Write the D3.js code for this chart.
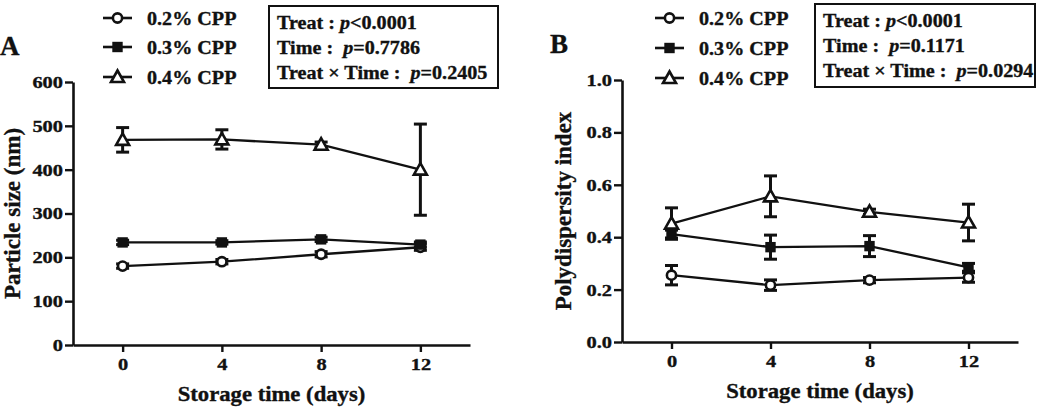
<!DOCTYPE html>
<html>
<head>
<meta charset="utf-8">
<script src="https://cdn.jsdelivr.net/npm/d3@7"></script>
<style>
  body { margin: 0; background: #fff; }
  svg { display: block; }
  text { font-family: 'Liberation Serif', 'Times New Roman', serif; font-weight: bold; fill: #111; stroke: #111; stroke-width: 0.35px; }
</style>
</head>
<body>
<svg id="chart" width="1044" height="411"></svg>
<script>
const days = [0, 4, 8, 12];
const seriesNames = ['0.2% CPP', '0.3% CPP', '0.4% CPP'];
const seriesSymbols = ['circle', 'square', 'triangle'];

// panel A : particle size (nm)
const size02 = [180, 190, 207, 223];
const size02Err = [5, 5, 6, 7];
const size03 = [234, 234, 241, 229];
const size03Err = [5, 4, 5, 6];
const size04 = [468, 469, 457, 400];
const size04Err = [28, 22, 6, 104];
const sizeTicks = [0, 100, 200, 300, 400, 500, 600];

// panel B : polydispersity index
const pdi02 = [0.255, 0.217, 0.236, 0.246];
const pdi02Err = [0.037, 0.02, 0.01, 0.018];
const pdi03 = [0.412, 0.362, 0.366, 0.285];
const pdi03Err = [0.015, 0.046, 0.04, 0.015];
const pdi04 = [0.452, 0.556, 0.497, 0.456];
const pdi04Err = [0.06, 0.078, 0.01, 0.07];
const pdiTicks = [0, 0.2, 0.4, 0.6, 0.8, 1.0];

const statsA = [['Treat : ', '<0.0001'], ['Time :  ', '=0.7786'], ['Treat \u00d7 Time :  ', '=0.2405']];
const statsB = [['Treat : ', '<0.0001'], ['Time :  ', '=0.1171'], ['Treat \u00d7 Time :  ', '=0.0294']];

const ink = '#111';
const svg = d3.select('#chart');

function drawMarker(g, type, x, y) {
  if (type === 'circle') {
    g.append('circle').attr('cx', x).attr('cy', y).attr('r', 4.6)
      .attr('fill', '#fff').attr('stroke', ink).attr('stroke-width', 2.6);
  } else if (type === 'square') {
    g.append('rect').attr('x', x - 5.2).attr('y', y - 5.2).attr('width', 10.4).attr('height', 10.4)
      .attr('fill', ink);
  } else {
    g.append('path').attr('d', `M${x},${y - 6.5}L${x + 6.5},${y + 5}L${x - 6.5},${y + 5}Z`)
      .attr('fill', '#fff').attr('stroke', ink).attr('stroke-width', 2.6).attr('stroke-linejoin', 'miter');
  }
}

function drawPanel(cfg) {
  const x = d3.scaleLinear().domain([-2, 14]).range(cfg.xRange);
  const y = d3.scaleLinear().domain(cfg.yDomain).range(cfg.yRange);
  const g = svg.append('g');

  // axes
  const yAxis = g.append('g')
    .attr('transform', `translate(${cfg.xRange[0]},0)`)
    .call(d3.axisLeft(y).tickValues(cfg.yTicks).tickSize(8).tickSizeOuter(0).tickFormat(cfg.yFormat));
  const xAxis = g.append('g')
    .attr('transform', `translate(0,${cfg.yRange[0]})`)
    .call(d3.axisBottom(x).tickValues(days).tickSize(7).tickSizeOuter(0));

  [yAxis, xAxis].forEach((a) => {
    a.select('.domain').attr('stroke', ink).attr('stroke-width', 2.6);
    a.selectAll('.tick line').attr('stroke', ink).attr('stroke-width', 2.4);
    a.selectAll('.tick text').attr('font-size', 17).attr('fill', ink)
      .style('font-family', 'Liberation Serif, serif').style('font-weight', 'bold');
  });
  yAxis.selectAll('.tick text').attr('x', null).attr('transform', 'translate(-10,0) scale(1.2,1)');
  xAxis.selectAll('.tick text').attr('y', null).attr('dy', null).attr('transform', 'translate(0,25) scale(1.2,1)');

  // titles
  g.append('text')
    .attr('transform', `translate(${(cfg.xRange[0] + cfg.xRange[1]) / 2},${cfg.xTitleY}) scale(1.08,1)`)
    .attr('text-anchor', 'middle').attr('font-size', 21).text('Storage time (days)');
  g.append('text')
    .attr('transform', `translate(${cfg.yTitleX},${(cfg.yRange[0] + cfg.yRange[1]) / 2}) rotate(-90)`)
    .attr('text-anchor', 'middle').attr('font-size', cfg.yTitleSize).text(cfg.yTitle);

  g.append('text').attr('x', cfg.letterX).attr('y', cfg.letterY).attr('font-size', 27).text(cfg.letter);

  // series
  const line = d3.line().x((d) => x(d[0])).y((d) => y(d[1]));
  cfg.series.forEach((s) => {
    g.append('path').datum(days.map((d, i) => [d, s.values[i]]))
      .attr('d', line).attr('fill', 'none').attr('stroke', ink).attr('stroke-width', 2.3);
  });
  cfg.series.forEach((s) => {
    const eb = g.append('g').attr('stroke', ink).attr('stroke-width', 3);
    days.forEach((d, i) => {
      const cx = x(d);
      const top = y(s.values[i] + s.errors[i]);
      const bot = y(s.values[i] - s.errors[i]);
      eb.append('line').attr('x1', cx).attr('x2', cx).attr('y1', top).attr('y2', bot);
      eb.append('line').attr('x1', cx - 6.5).attr('x2', cx + 6.5).attr('y1', top).attr('y2', top);
      eb.append('line').attr('x1', cx - 6.5).attr('x2', cx + 6.5).attr('y1', bot).attr('y2', bot);
    });
  });
  cfg.series.forEach((s, k) => {
    days.forEach((d, i) => drawMarker(g, seriesSymbols[k], x(d), y(s.values[i])));
  });

  // legend
  const leg = g.append('g');
  seriesNames.forEach((name, k) => {
    const ly = cfg.legendY[k];
    leg.append('line').attr('x1', cfg.legendX).attr('x2', cfg.legendX + 29)
      .attr('y1', ly).attr('y2', ly).attr('stroke', ink).attr('stroke-width', 2.6);
    drawMarker(leg, seriesSymbols[k], cfg.legendX + 14.5, ly);
    leg.append('text')
      .attr('transform', `translate(${cfg.legendX + 44},${ly + 6.5}) scale(1.06,1)`)
      .attr('font-size', 19).text(name);
  });

  // statistics box
  const box = g.append('g');
  box.append('rect').attr('x', cfg.box[0]).attr('y', cfg.box[1])
    .attr('width', cfg.box[2] - cfg.box[0]).attr('height', cfg.box[3] - cfg.box[1])
    .attr('fill', 'none').attr('stroke', ink).attr('stroke-width', 2);
  cfg.stats.forEach((row, i) => {
    const t = box.append('text')
      .attr('transform', `translate(${cfg.box[0] + 8},${cfg.box[1] + 23 + i * 25}) scale(1.06,1)`)
      .attr('font-size', 19).attr('xml:space', 'preserve');
    t.append('tspan').text(row[0]);
    t.append('tspan').attr('font-style', 'italic').text('p');
    t.append('tspan').text(row[1]);
  });
}

drawPanel({
  letter: 'A', letterX: 0, letterY: 55,
  xRange: [73, 470], yRange: [345, 82], yDomain: [0, 600],
  yTicks: sizeTicks, yFormat: d3.format('d'),
  yTitle: 'Particle size  (nm)', yTitleX: 20, yTitleSize: 23,
  xTitleY: 401,
  series: [
    { values: size02, errors: size02Err },
    { values: size03, errors: size03Err },
    { values: size04, errors: size04Err },
  ],
  legendX: 103, legendY: [18, 47, 77],
  box: [269, 6, 498, 88], stats: statsA,
});

drawPanel({
  letter: 'B', letterX: 550, letterY: 53,
  xRange: [622, 1018], yRange: [342, 80], yDomain: [0, 1],
  yTicks: pdiTicks, yFormat: d3.format('.1f'),
  yTitle: 'Polydispersity index', yTitleX: 571, yTitleSize: 23,
  xTitleY: 398,
  series: [
    { values: pdi02, errors: pdi02Err },
    { values: pdi03, errors: pdi03Err },
    { values: pdi04, errors: pdi04Err },
  ],
  legendX: 655, legendY: [18, 48, 78],
  box: [815, 4, 1035, 87], stats: statsB,
});
</script>
</body>
</html>
